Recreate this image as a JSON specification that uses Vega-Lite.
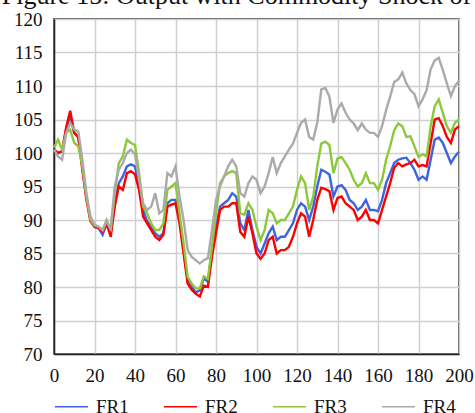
{
  "$schema": "https://vega.github.io/schema/vega-lite/v6.json",
  "autosize": {"type": "none"},
  "width": 405,
  "height": 335,
  "padding": {"left": 54, "top": 19, "right": 16, "bottom": 59},
  "background": "white",
  "title": {
    "text": "Figure 15: Output with Commodity Shock of",
    "font": "Times New Roman, Liberation Serif, serif",
    "fontSize": 26,
    "fontWeight": "normal",
    "color": "#111",
    "anchor": "middle",
    "baseline": "alphabetic",
    "offset": 0,
    "dx": -20,
    "dy": 20
  },
  "data": {
    "values": [
      {"x": 0, "FR1": 100.5, "FR2": 100.5, "FR3": 100.8, "FR4": 100.5},
      {"x": 2, "FR1": 100, "FR2": 100, "FR3": 102, "FR4": 99.5},
      {"x": 4, "FR1": 100.2, "FR2": 100.3, "FR3": 100.5, "FR4": 99},
      {"x": 6, "FR1": 103.5, "FR2": 103.8, "FR3": 103, "FR4": 103},
      {"x": 8, "FR1": 105.5, "FR2": 106.3, "FR3": 103.5, "FR4": 104.5},
      {"x": 10, "FR1": 103, "FR2": 103, "FR3": 101.5, "FR4": 103.5},
      {"x": 12, "FR1": 102.5, "FR2": 102.3, "FR3": 101, "FR4": 103.2},
      {"x": 14, "FR1": 98, "FR2": 97.5, "FR3": 98, "FR4": 99},
      {"x": 16, "FR1": 93.5, "FR2": 93, "FR3": 93.5, "FR4": 94},
      {"x": 18, "FR1": 90, "FR2": 89.8, "FR3": 90, "FR4": 90.5},
      {"x": 20, "FR1": 89, "FR2": 89, "FR3": 89.2, "FR4": 89.3},
      {"x": 22, "FR1": 88.8, "FR2": 88.8, "FR3": 89, "FR4": 89},
      {"x": 24, "FR1": 87.8, "FR2": 88.3, "FR3": 88.5, "FR4": 88.5},
      {"x": 26, "FR1": 89.5, "FR2": 89.4, "FR3": 90, "FR4": 89.8},
      {"x": 28, "FR1": 88, "FR2": 87.5, "FR3": 88.5, "FR4": 88.7},
      {"x": 30, "FR1": 92.5, "FR2": 92, "FR3": 94, "FR4": 95},
      {"x": 32, "FR1": 95.5, "FR2": 95, "FR3": 98.5, "FR4": 97.5},
      {"x": 34, "FR1": 96.5, "FR2": 94.5, "FR3": 99.5, "FR4": 98.5},
      {"x": 36, "FR1": 98, "FR2": 97, "FR3": 102, "FR4": 100},
      {"x": 38, "FR1": 98.3, "FR2": 97.3, "FR3": 101.5, "FR4": 100.5},
      {"x": 40, "FR1": 98, "FR2": 96.8, "FR3": 101.2, "FR4": 99.8},
      {"x": 42, "FR1": 95, "FR2": 94.5, "FR3": 97, "FR4": 96},
      {"x": 44, "FR1": 91.5, "FR2": 90.5, "FR3": 92, "FR4": 92.5},
      {"x": 46, "FR1": 89.8, "FR2": 89.5, "FR3": 91, "FR4": 91.5},
      {"x": 48, "FR1": 89, "FR2": 88.5, "FR3": 89.5, "FR4": 92},
      {"x": 50, "FR1": 88, "FR2": 87.5, "FR3": 88.5, "FR4": 94},
      {"x": 52, "FR1": 87.5, "FR2": 87, "FR3": 88.5, "FR4": 91},
      {"x": 54, "FR1": 88, "FR2": 87.8, "FR3": 89.5, "FR4": 91.5},
      {"x": 56, "FR1": 92.5, "FR2": 92, "FR3": 94.5, "FR4": 97},
      {"x": 58, "FR1": 93, "FR2": 92.3, "FR3": 95, "FR4": 96.5},
      {"x": 60, "FR1": 93, "FR2": 92.5, "FR3": 95.5, "FR4": 98},
      {"x": 62, "FR1": 90, "FR2": 89.5, "FR3": 91, "FR4": 93.5},
      {"x": 64, "FR1": 85.5, "FR2": 85, "FR3": 86.5, "FR4": 90},
      {"x": 66, "FR1": 81, "FR2": 80.5, "FR3": 81.5, "FR4": 85.5},
      {"x": 68, "FR1": 80, "FR2": 79.6, "FR3": 80.5, "FR4": 84.5},
      {"x": 70, "FR1": 79.2, "FR2": 79, "FR3": 79.8, "FR4": 84},
      {"x": 72, "FR1": 79.5, "FR2": 78.6, "FR3": 79.8, "FR4": 83.5},
      {"x": 74, "FR1": 81.3, "FR2": 80.2, "FR3": 81.6, "FR4": 84},
      {"x": 76, "FR1": 80.8, "FR2": 80, "FR3": 81.2, "FR4": 84.3},
      {"x": 78, "FR1": 85.5, "FR2": 84.5, "FR3": 86, "FR4": 88.5},
      {"x": 80, "FR1": 89, "FR2": 88, "FR3": 91, "FR4": 93},
      {"x": 82, "FR1": 92, "FR2": 91.5, "FR3": 95.5, "FR4": 95},
      {"x": 84, "FR1": 92.5, "FR2": 92, "FR3": 96.5, "FR4": 96.5},
      {"x": 86, "FR1": 93, "FR2": 92, "FR3": 97, "FR4": 98},
      {"x": 88, "FR1": 94, "FR2": 92.5, "FR3": 97.3, "FR4": 99},
      {"x": 90, "FR1": 93.5, "FR2": 92.5, "FR3": 97, "FR4": 98},
      {"x": 92, "FR1": 89.5, "FR2": 88.2, "FR3": 91, "FR4": 94},
      {"x": 94, "FR1": 88.5, "FR2": 87.5, "FR3": 90.8, "FR4": 93.5},
      {"x": 96, "FR1": 91.5, "FR2": 90.5, "FR3": 92.5, "FR4": 95.5},
      {"x": 98, "FR1": 88.5, "FR2": 88, "FR3": 91.5, "FR4": 96.5},
      {"x": 100, "FR1": 86, "FR2": 85, "FR3": 89, "FR4": 96},
      {"x": 102, "FR1": 85, "FR2": 84.2, "FR3": 87, "FR4": 94},
      {"x": 104, "FR1": 86.5, "FR2": 85, "FR3": 88.5, "FR4": 95},
      {"x": 106, "FR1": 88, "FR2": 87, "FR3": 91.5, "FR4": 97},
      {"x": 108, "FR1": 89, "FR2": 87.5, "FR3": 91, "FR4": 99.4},
      {"x": 110, "FR1": 87, "FR2": 85, "FR3": 89.5, "FR4": 97},
      {"x": 112, "FR1": 87.5, "FR2": 85.5, "FR3": 90, "FR4": 98.5},
      {"x": 114, "FR1": 87.5, "FR2": 85.5, "FR3": 90, "FR4": 99.5},
      {"x": 116, "FR1": 88.5, "FR2": 86, "FR3": 91, "FR4": 100.5},
      {"x": 118, "FR1": 89.5, "FR2": 87.5, "FR3": 92, "FR4": 101.4},
      {"x": 120, "FR1": 91.5, "FR2": 89.5, "FR3": 94.5, "FR4": 103},
      {"x": 122, "FR1": 92.5, "FR2": 91, "FR3": 96.5, "FR4": 104.5},
      {"x": 124, "FR1": 92, "FR2": 90.5, "FR3": 95.5, "FR4": 105},
      {"x": 126, "FR1": 90, "FR2": 87.5, "FR3": 91.5, "FR4": 102.4},
      {"x": 128, "FR1": 92, "FR2": 90, "FR3": 93.5, "FR4": 102},
      {"x": 130, "FR1": 95, "FR2": 93, "FR3": 98, "FR4": 104.5},
      {"x": 132, "FR1": 97.5, "FR2": 94.8, "FR3": 101.4, "FR4": 109.5},
      {"x": 134, "FR1": 97.2, "FR2": 94.6, "FR3": 101.7, "FR4": 109.7},
      {"x": 136, "FR1": 96.8, "FR2": 94.3, "FR3": 101.2, "FR4": 108.4},
      {"x": 138, "FR1": 93.5, "FR2": 91.5, "FR3": 97, "FR4": 104.5},
      {"x": 140, "FR1": 95, "FR2": 93.3, "FR3": 99.2, "FR4": 106.5},
      {"x": 142, "FR1": 95.2, "FR2": 93.5, "FR3": 99.4, "FR4": 107.4},
      {"x": 144, "FR1": 94.5, "FR2": 92.5, "FR3": 98.5, "FR4": 106},
      {"x": 146, "FR1": 93, "FR2": 92, "FR3": 97.5, "FR4": 105},
      {"x": 148, "FR1": 92.5, "FR2": 91.5, "FR3": 96, "FR4": 104.4},
      {"x": 150, "FR1": 91.5, "FR2": 90, "FR3": 95, "FR4": 103.4},
      {"x": 152, "FR1": 92, "FR2": 90.5, "FR3": 95.5, "FR4": 104.4},
      {"x": 154, "FR1": 93, "FR2": 91.5, "FR3": 97, "FR4": 103.5},
      {"x": 156, "FR1": 91.5, "FR2": 90, "FR3": 95.5, "FR4": 103},
      {"x": 158, "FR1": 91.5, "FR2": 90, "FR3": 95.5, "FR4": 103},
      {"x": 160, "FR1": 91.3, "FR2": 89.5, "FR3": 94.5, "FR4": 102.4},
      {"x": 162, "FR1": 93, "FR2": 91.5, "FR3": 96, "FR4": 104},
      {"x": 164, "FR1": 95.5, "FR2": 93.5, "FR3": 99, "FR4": 106.4},
      {"x": 166, "FR1": 97, "FR2": 95.5, "FR3": 101, "FR4": 108.4},
      {"x": 168, "FR1": 98.5, "FR2": 97.8, "FR3": 103.4, "FR4": 110.6},
      {"x": 170, "FR1": 99, "FR2": 98.5, "FR3": 104.4, "FR4": 111},
      {"x": 172, "FR1": 99.2, "FR2": 98, "FR3": 104, "FR4": 112},
      {"x": 174, "FR1": 99.3, "FR2": 98.3, "FR3": 102.4, "FR4": 110.4},
      {"x": 176, "FR1": 98.5, "FR2": 98.5, "FR3": 102.5, "FR4": 109.4},
      {"x": 178, "FR1": 97.5, "FR2": 99, "FR3": 101, "FR4": 108.8},
      {"x": 180, "FR1": 96, "FR2": 98, "FR3": 99.4, "FR4": 107},
      {"x": 182, "FR1": 96.5, "FR2": 98.2, "FR3": 99.8, "FR4": 108},
      {"x": 184, "FR1": 96, "FR2": 98, "FR3": 99.5, "FR4": 109.4},
      {"x": 186, "FR1": 99, "FR2": 101.5, "FR3": 104, "FR4": 112.5},
      {"x": 188, "FR1": 102, "FR2": 105, "FR3": 107, "FR4": 113.8},
      {"x": 190, "FR1": 102.3, "FR2": 105.2, "FR3": 108, "FR4": 114.2},
      {"x": 192, "FR1": 101.5, "FR2": 104, "FR3": 106, "FR4": 112.4},
      {"x": 194, "FR1": 100, "FR2": 102.4, "FR3": 104, "FR4": 110.4},
      {"x": 196, "FR1": 98.5, "FR2": 101.5, "FR3": 103, "FR4": 108.5},
      {"x": 198, "FR1": 99.5, "FR2": 103.5, "FR3": 104.5, "FR4": 110},
      {"x": 200, "FR1": 100.2, "FR2": 104, "FR3": 105, "FR4": 110.8}
    ]
  },
  "transform": [{"fold": ["FR1", "FR2", "FR3", "FR4"], "as": ["series", "value"]}],
  "mark": {"type": "line", "strokeWidth": 2.4, "interpolate": "linear"},
  "encoding": {
    "x": {
      "field": "x", "type": "quantitative",
      "scale": {"domain": [0, 200], "nice": false},
      "axis": {"values": [0, 20, 40, 60, 80, 100, 120, 140, 160, 180, 200], "title": null, "labelOverlap": false, "labelFlush": false, "labelFont": "Times New Roman, Liberation Serif, serif"}
    },
    "y": {
      "field": "value", "type": "quantitative",
      "scale": {"domain": [70, 120], "nice": false, "zero": false},
      "axis": {"values": [70, 75, 80, 85, 90, 95, 100, 105, 110, 115, 120], "title": null, "labelOverlap": false, "labelFlush": false, "labelFont": "Times New Roman, Liberation Serif, serif"}
    },
    "color": {
      "field": "series", "type": "nominal",
      "scale": {"domain": ["FR1", "FR2", "FR3", "FR4"], "range": ["#3d63e0", "#ff0000", "#8dc83a", "#aaaaaa"]},
      "legend": {
        "title": null,
        "orient": "bottom",
        "direction": "horizontal",
        "columns": 4,
        "symbolType": "stroke",
        "symbolSize": 1089,
        "symbolStrokeWidth": 1.5,
        "labelFont": "Times New Roman, Liberation Serif, serif",
        "labelFontSize": 19,
        "labelColor": "#111",
        "labelOffset": 7,
        "columnPadding": 32,
        "offset": 4
      }
    },
    "order": {"field": "x", "type": "quantitative"}
  },
  "config": {
    "font": "Times New Roman, Liberation Serif, serif",
    "view": {"stroke": "#222", "strokeWidth": 1.5},
    "axis": {
      "grid": true,
      "gridColor": "#cfcfcf",
      "gridWidth": 1.5,
      "domainColor": "#222",
      "domainWidth": 1.5,
      "ticks": false,
      "tickSize": 0,
      "labelFont": "Times New Roman, Liberation Serif, serif",
      "labelFontSize": 19,
      "labelColor": "#111",
      "labelPadding": 12
    }
  }
}
